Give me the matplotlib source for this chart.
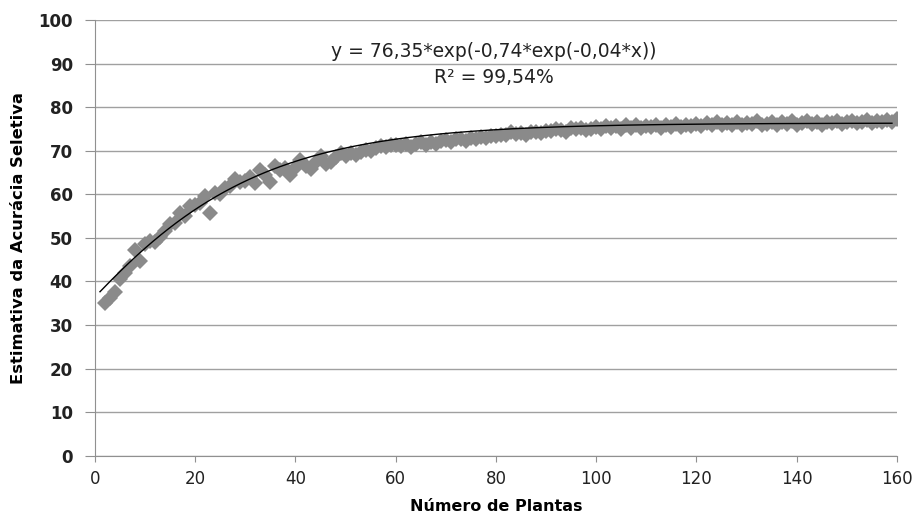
import numpy as np
import matplotlib
matplotlib.use("Agg")
import matplotlib.pyplot as plt

plt.rcParams['font.family'] = ['DejaVu Sans']

# numero de plantas (2 a 160) e estimativa da acuracia seletiva
plantas = list(range(2, 161))
acuracia = [
    35.0, 36.2, 37.5, 40.5, 42.0, 43.5, 47.3, 44.6, 48.5,            # 2-10
    49.3, 49.0, 50.2, 51.5, 53.1, 53.5, 55.6, 55.0, 57.2, 57.5,      # 11-20
    58.0, 59.6, 55.8, 60.4, 60.0, 61.5, 62.0, 63.5, 62.8, 63.0,      # 21-30
    64.0, 62.6, 65.5, 64.5, 62.8, 66.6, 65.5, 66.0, 64.5, 66.0,      # 31-40
    67.8, 66.5, 65.8, 67.5, 68.9, 67.0, 67.5, 68.5, 69.4, 68.8,      # 41-50
    69.5, 69.0, 69.8, 70.2, 70.0, 70.6, 71.0, 70.8, 71.2, 71.4,      # 51-60
    71.0, 71.6, 70.8, 71.5, 71.9, 71.2, 72.0, 71.5, 72.2, 72.4,      # 61-70
    72.0, 72.8, 72.6, 72.3, 73.0, 72.8, 73.2, 73.0, 73.4, 73.3,      # 71-80
    73.6, 73.5, 74.2, 73.8, 74.0, 73.7, 74.2, 74.4, 74.1, 74.6,      # 81-90
    74.5, 75.0, 74.7, 74.4, 75.1, 74.9, 75.3, 74.8, 75.0, 75.4,      # 91-100
    75.0, 75.7, 75.1, 75.6, 74.9, 75.8, 75.3, 75.9, 75.2, 75.7,      # 101-110
    75.4, 76.0, 75.2, 75.8, 75.5, 76.1, 75.4, 75.9, 75.6, 76.2,      # 111-120
    75.6, 76.3, 75.8, 76.6, 75.9, 76.4, 76.0, 76.7, 75.8, 76.3,      # 121-130
    76.1, 76.8, 75.9, 76.2, 76.6, 75.9, 76.5, 76.1, 76.8, 76.0,      # 131-140
    76.4, 76.9, 76.1, 76.5, 75.9, 76.7, 76.3, 76.9, 76.2, 76.6,      # 141-150
    76.9, 76.3, 76.7, 77.0, 76.4, 76.8, 76.5, 77.0, 76.6, 77.2,      # 151-160
]

# parametros da linha de tendencia (Gompertz); o rotulo mostra os valores arredondados
a_fit, b_fit, c_fit = 76.35, 0.74, 0.045
equacao = "y = 76,35*exp(-0,74*exp(-0,04*x))"
r2_texto = "R² = 99,54%"

fig = plt.figure(figsize=(9.15, 5.24), dpi=100)
ax = fig.add_axes([0.1038, 0.1304, 0.8765, 0.8314])

ax.plot(plantas, acuracia, linestyle='none', marker='D', markersize=8.5,
        color='#8a8a8a', markeredgewidth=0, zorder=2)

xs = np.linspace(1, 159, 300)
ax.plot(xs, a_fit * np.exp(-b_fit * np.exp(-c_fit * xs)), color='black', lw=1, zorder=3)

ax.set_xlim(0, 160)
ax.set_ylim(0, 100)
ax.set_xticks(range(0, 161, 20))
ax.set_yticks(range(0, 101, 10))
ax.grid(axis='y', color='#a0a0a0', lw=1)
ax.set_axisbelow(True)

for s in ['top', 'right']:
    ax.spines[s].set_visible(False)
for s in ['left', 'bottom']:
    ax.spines[s].set_color('#909090')
ax.tick_params(colors='#909090', labelcolor='#222222', labelsize=12)
ax.tick_params(axis='y', length=7, pad=9)
ax.tick_params(axis='x', length=4, pad=6)
for lab in ax.get_yticklabels():
    lab.set_fontweight('bold')

ax.set_xlabel('Número de Plantas', fontsize=11.5, fontweight='bold', labelpad=8)
ax.set_ylabel('Estimativa da Acurácia Seletiva', fontsize=11.8, fontweight='bold', labelpad=9)

ax.text(79.6, 92.7, equacao, ha='center', va='center', fontsize=13.5, color='#222222')
ax.text(79.6, 86.7, r2_texto, ha='center', va='center', fontsize=13.5, color='#222222')

fig.savefig('out.png', dpi=100)
